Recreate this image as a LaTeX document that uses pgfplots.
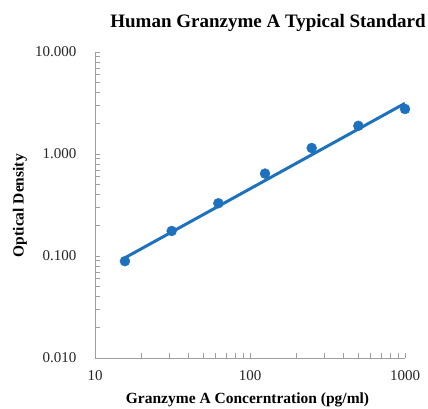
\documentclass[border=0pt]{standalone}
\usepackage{fontspec}
\setmainfont{Liberation Serif}
\usepackage{pgfplots}
\pgfplotsset{compat=1.18}
\definecolor{odblue}{RGB}{30,114,189}
\begin{document}
\begin{tikzpicture}[x=1pt,y=1pt]
\useasboundingbox (-95,-50) rectangle (333,358);
\begin{axis}[
    at={(0,0)}, anchor=south west,
    scale only axis, width=310pt, height=306pt,
    xmode=log, ymode=log,
    xmin=10, xmax=1000, ymin=0.01, ymax=10,
    axis x line=bottom, axis y line=left,
    axis line style={-, draw=gray!75, line width=0.8pt},
    tick align=inside,
    major tick length=5pt, minor tick length=5pt,
    every tick/.style={draw=gray!75, line width=0.6pt},
    xtick={10,100,1000}, xticklabels={10,100,1000},
    ytick={0.01,0.1,1,10}, yticklabels={0.010,0.100,1.000,10.000},
    minor xtick={20,30,40,50,60,70,80,90,200,300,400,500,600,700,800,900},
    minor ytick={0.02,0.03,0.04,0.05,0.06,0.07,0.08,0.09,0.2,0.3,0.4,0.5,0.6,0.7,0.8,0.9,2,3,4,5,6,7,8,9},
    /pgf/number format/assume math mode=true,
    tick label style={font=\fontsize{15}{17}\selectfont, text=black!85},
    xticklabel style={yshift=-9pt},
    yticklabel style={xshift=-15pt},
    title={Human Granzyme A Typical Standard},
    title style={font=\bfseries\fontsize{19}{21}\selectfont, at={(axis description cs:0.558,1.074)}, anchor=center},
    xlabel={Granzyme A Concerntration (pg/ml)},
    xlabel style={font=\bfseries\fontsize{15.5}{17}\selectfont, at={(axis description cs:0.492,-0.137)}, anchor=center},
    ylabel={Optical Density},
    ylabel style={font=\bfseries\fontsize{15.5}{17}\selectfont, at={(axis description cs:-0.242,0.498)}, anchor=center},
    clip=false,
]
\addplot[color=odblue, line width=3pt] coordinates {(15.6,0.096) (1000,3.14)};
\addplot[only marks, mark=*, mark size=5pt, color=odblue] coordinates {
(15.6,0.089) (31.25,0.176) (62.5,0.329) (125,0.643) (250,1.145) (500,1.89) (1000,2.76)
};
\end{axis}
\end{tikzpicture}
\end{document}
